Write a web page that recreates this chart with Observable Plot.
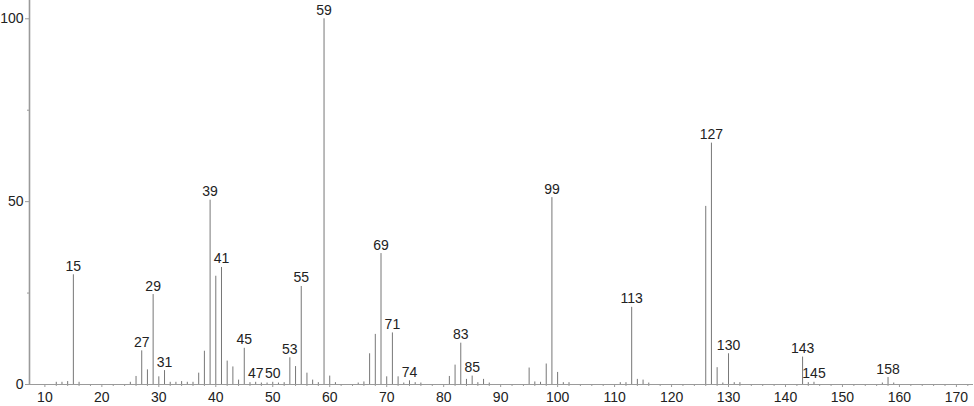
<!DOCTYPE html>
<html>
<head>
<meta charset="utf-8">
<script src="https://cdn.jsdelivr.net/npm/d3@7"></script>
<script src="https://cdn.jsdelivr.net/npm/@observablehq/plot@0.6"></script>
<style>
  html, body { margin: 0; padding: 0; background: #fff; }
</style>
</head>
<body>
<div id="chart"></div>
<script>
// m/z values and relative intensities
const mz = [12,13,14,15,16,25,26,27,28,29,30,31,32,33,34,35,36,37,38,39,40,41,42,43,44,45,46,47,48,49,50,51,52,53,54,55,56,57,58,59,60,61,65,66,67,68,69,70,71,72,73,74,75,76,81,82,83,84,85,86,87,88,95,96,97,98,99,100,101,102,111,112,113,114,115,116,126,127,128,129,130,131,132,143,144,145,157,158,159];
const intensity = [0.6,0.6,0.8,30,0.6,0.6,2.2,9.2,4.0,24.6,2.1,3.8,0.6,0.6,0.8,0.6,0.6,3.1,9.1,50.4,29.6,32.0,6.4,4.8,1.2,9.9,0.5,0.6,0.4,0.4,0.6,0.4,0.5,7.3,4.9,26.8,3.1,1.2,0.5,100,2.3,0.5,0.4,0.7,8.4,13.7,35.8,2.1,14.1,2.1,0.4,1.0,0.5,0.4,2.2,5.3,11.3,1.4,2.3,0.5,1.4,0.4,4.5,0.7,0.6,5.6,51.1,3.3,0.5,0.5,0.5,0.5,21.1,1.4,1.2,0.4,48.7,66.0,4.6,0.4,8.4,0.5,0.5,7.5,0.5,0.6,0.4,1.9,0.4];
const labeledPeaks = [15,27,29,31,39,41,45,47,50,53,55,59,69,71,74,83,85,99,113,127,130,143,145,158];
const xMajorTicks = [10,20,30,40,50,60,70,80,90,100,110,120,130,140,150,160,170];
const xMinorTicks = d3.range(12, 173, 2).filter(v => v % 10 !== 0);
const yMajorTicks = [0, 50, 100];
const yMinorTicks = [25, 75];
const xDomain = [7.3, 173];
const yDomain = [0, 105];

const peaks = mz.map((m, i) => ({mz: m, i: intensity[i]}));
const labels = peaks.filter(p => labeledPeaks.includes(p.mz));

const axisColor = "#9a9a9a";

const chart = Plot.plot({
  width: 974,
  height: 406,
  marginLeft: 29,
  marginRight: 1,
  marginTop: 0,
  marginBottom: 22,
  x: {domain: xDomain},
  y: {domain: yDomain},
  style: {fontFamily: "'Liberation Sans', sans-serif", fontSize: "14px", color: "#222", background: "#fff"},
  marks: [
    Plot.ruleX(peaks, {x: "mz", y1: 0, y2: "i", stroke: "#777", strokeWidth: 1}),
    Plot.ruleY([0], {stroke: axisColor, strokeWidth: 1.2}),
    Plot.ruleX([xDomain[0]], {stroke: axisColor, strokeWidth: 1.6}),
    Plot.axisX({ticks: xMajorTicks, tickSize: 3, tickPadding: 5, tickFormat: d => String(d), label: null, stroke: axisColor, fontSize: 14}),
    Plot.axisX({ticks: xMinorTicks, tickSize: 2, tickFormat: () => "", label: null, stroke: axisColor}),
    Plot.axisY({ticks: yMajorTicks, tickSize: 4, tickPadding: 2, tickFormat: d => String(d), label: null, stroke: axisColor, fontSize: 14}),
    Plot.axisY({ticks: yMinorTicks, tickSize: 2, tickFormat: () => "", label: null, stroke: axisColor}),
    Plot.text(labels, {x: "mz", y: "i", text: d => String(d.mz), dy: -4, lineAnchor: "bottom", textAnchor: "middle", fill: "#222", fontSize: 14})
  ]
});
document.getElementById("chart").appendChild(chart);
</script>
</body>
</html>
